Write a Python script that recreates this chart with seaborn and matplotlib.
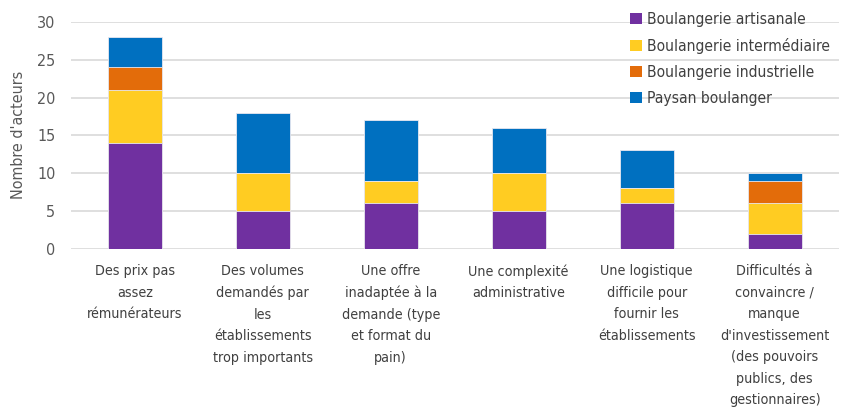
import matplotlib
matplotlib.use("Agg")
import matplotlib.pyplot as plt
import numpy as np
import pandas as pd
import seaborn as sns
from matplotlib.patches import Patch

categories = [
    "Des prix pas\nassez\nrémunérateurs",
    "Des volumes\ndemandés par\nles\nétablissements\ntrop importants",
    "Une offre\ninadaptée à la\ndemande (type\net format du\npain)",
    "Une complexité\nadministrative",
    "Une logistique\ndifficile pour\nfournir les\nétablissements",
    "Difficultés à\nconvaincre /\nmanque\nd'investissement\n(des pouvoirs\npublics, des\ngestionnaires)",
]
series = ["Boulangerie artisanale", "Boulangerie intermédiaire", "Boulangerie industrielle", "Paysan boulanger"]
artisanale = [14, 5, 6, 5, 6, 2]
intermediaire = [7, 5, 3, 5, 2, 4]
industrielle = [3, 0, 0, 0, 0, 3]
paysan = [4, 8, 8, 6, 5, 1]
colors = ["#7030A0", "#FFCC22", "#E36C0A", "#0070C0"]

sns.set_style("white")
plt.rcParams["font.family"] = ["DejaVu Sans"]
plt.rcParams["font.stretch"] = "condensed"

values = np.array([artisanale, intermediaire, industrielle, paysan], dtype=float)
cum = np.cumsum(values, axis=0)

fig = plt.figure(figsize=(8.42, 4.12), dpi=100)
ax = fig.add_axes([0.084, 0.396, 0.912, 0.551])

# draw cumulative totals, tallest first, so each layer shows as a stacked segment
for k in range(len(series) - 1, -1, -1):
    df = pd.DataFrame({"cat": categories, "val": cum[k]})
    sns.barplot(data=df, x="cat", y="val", color=colors[k], width=0.42,
                saturation=1, edgecolor="#e8e8f0", linewidth=0.6, ax=ax, zorder=3)

ax.set_ylim(0, 30)
ax.set_yticks(range(0, 31, 5))
ax.yaxis.grid(True, color="#d9d9d9", linewidth=1.2, zorder=0)
ax.set_axisbelow(True)
for s in ax.spines.values():
    s.set_visible(False)
ax.tick_params(axis="both", length=0, colors="#595959")
ax.tick_params(axis="y", labelsize=11.5, pad=11)
ax.tick_params(axis="x", labelsize=10.3, pad=11)
for lab in ax.get_xticklabels():
    lab.set_linespacing(1.68)
    lab.set_color("#404040")
ax.set_xlabel("")
ax.set_ylabel("Nombre d'acteurs", fontsize=11.5, color="#595959", labelpad=8)

handles = [Patch(facecolor=c, edgecolor="none") for c in colors]
leg = ax.legend(handles, series, loc="upper left", bbox_to_anchor=(0.72, 1.07),
                frameon=False, fontsize=11.2, handlelength=0.75, handleheight=0.75,
                handletextpad=0.35, labelspacing=0.7, borderaxespad=0)
for t in leg.get_texts():
    t.set_color("#404040")

fig.savefig("out.png", dpi=100)
